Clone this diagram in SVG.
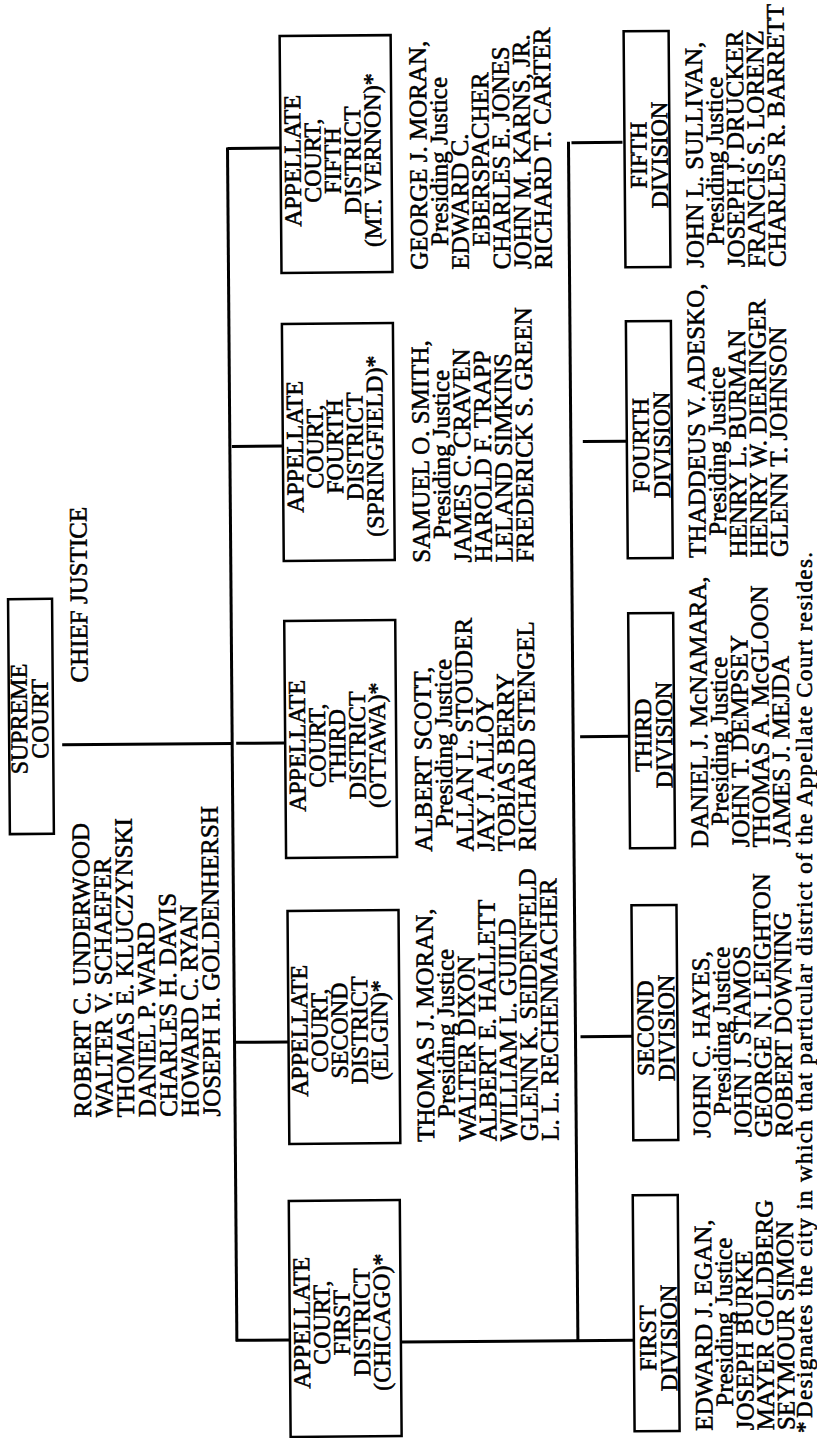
<svg xmlns="http://www.w3.org/2000/svg" width="817" height="1438" viewBox="0 0 817 1438">
<style>
.box{fill:none;stroke:#000;stroke-width:2.5}
.ln{stroke:#000;stroke-width:3;fill:none}
text{font-family:'Liberation Serif','Times New Roman',serif;font-size:25px;fill:#000;stroke:#000;stroke-width:0.55}
.bt{font-size:24px;text-anchor:middle}
.fn{font-size:23px}
</style>
<rect width="817" height="1438" fill="#fff"/>
<g transform="rotate(-0.45 408 719)">
<g id="connectors">
<line class="ln" x1="62" y1="742" x2="232" y2="742"/>
<line class="ln" x1="232" y1="146" x2="232" y2="1340"/>
<line class="ln" x1="232" y1="147" x2="285" y2="147"/>
<line class="ln" x1="234" y1="445" x2="285" y2="445"/>
<line class="ln" x1="236" y1="742" x2="285" y2="742"/>
<line class="ln" x1="232" y1="1041" x2="286" y2="1041"/>
<line class="ln" x1="231" y1="1339" x2="285" y2="1339"/>
<line class="ln" x1="573" y1="143" x2="573" y2="1343"/>
<line class="ln" x1="576" y1="144" x2="627" y2="144"/>
<line class="ln" x1="585" y1="443" x2="629" y2="443"/>
<line class="ln" x1="580" y1="738" x2="629" y2="738"/>
<line class="ln" x1="578" y1="1038" x2="630" y2="1038"/>
<line class="ln" x1="396" y1="1342" x2="629" y2="1342"/>
</g>

<g id="supreme-court">
<rect class="box" x="9" y="596" width="44" height="235"/>
<g transform="rotate(-90)">
<text class="bt" x="-716" y="27">SUPREME</text>
<text class="bt" x="-716" y="48">COURT</text>
</g>
</g>

<g id="supreme-justices" transform="rotate(-90)">
<text x="-680" y="88">CHIEF JUSTICE</text>
<text x="-1115" y="88">ROBERT C. UNDERWOOD</text>
<text x="-1115" y="109.5">WALTER V. SCHAEFER</text>
<text x="-1115" y="131">THOMAS E. KLUCZYNSKI</text>
<text x="-1115" y="152.5">DANIEL P. WARD</text>
<text x="-1115" y="174">CHARLES H. DAVIS</text>
<text x="-1115" y="195.5">HOWARD C. RYAN</text>
<text x="-1115" y="217">JOSEPH H. GOLDENHERSH</text>
</g>

<g id="district-5">
<rect class="box" x="285" y="35" width="111" height="237"/>
<g transform="rotate(-90)">
<text class="bt" x="-160" y="305">APPELLATE</text>
<text class="bt" x="-160" y="325">COURT,</text>
<text class="bt" x="-160" y="345">FIFTH</text>
<text class="bt" x="-160" y="365">DISTRICT</text>
<text class="bt" x="-160" y="385">(MT. VERNON)*</text>
</g>
</g>
<g id="district-4">
<rect class="box" x="285" y="323" width="111" height="237"/>
<g transform="rotate(-90)">
<text class="bt" x="-446" y="305">APPELLATE</text>
<text class="bt" x="-446" y="325">COURT,</text>
<text class="bt" x="-446" y="345">FOURTH</text>
<text class="bt" x="-446" y="365">DISTRICT</text>
<text class="bt" x="-446" y="385">(SPRINGFIELD)*</text>
</g>
</g>
<g id="district-3">
<rect class="box" x="285" y="620" width="111" height="237"/>
<g transform="rotate(-90)">
<text class="bt" x="-745" y="305">APPELLATE</text>
<text class="bt" x="-745" y="325">COURT,</text>
<text class="bt" x="-745" y="345">THIRD</text>
<text class="bt" x="-745" y="365">DISTRICT</text>
<text class="bt" x="-745" y="385">(OTTAWA)*</text>
</g>
</g>
<g id="district-2">
<rect class="box" x="286" y="910" width="111" height="233"/>
<g transform="rotate(-90)">
<text class="bt" x="-1030" y="305">APPELLATE</text>
<text class="bt" x="-1030" y="325">COURT,</text>
<text class="bt" x="-1030" y="345">SECOND</text>
<text class="bt" x="-1030" y="365">DISTRICT</text>
<text class="bt" x="-1030" y="385">(ELGIN)*</text>
</g>
</g>
<g id="district-1">
<rect class="box" x="285" y="1200" width="111" height="236"/>
<g transform="rotate(-90)">
<text class="bt" x="-1322" y="305">APPELLATE</text>
<text class="bt" x="-1322" y="325">COURT,</text>
<text class="bt" x="-1322" y="345">FIRST</text>
<text class="bt" x="-1322" y="365">DISTRICT</text>
<text class="bt" x="-1322" y="385">(CHICAGO)*</text>
</g>
</g>

<g id="district-5-justices" transform="rotate(-90)">
<text x="-270" y="431">GEORGE J. MORAN,</text>
<text x="-246" y="451.7">Presiding Justice</text>
<text x="-270" y="472.4">EDWARD C.</text>
<text x="-247" y="493.1">EBERSPACHER</text>
<text x="-270" y="513.8">CHARLES E. JONES</text>
<text x="-270" y="534.5">JOHN M. KARNS, JR.</text>
<text x="-270" y="555.2">RICHARD T. CARTER</text>
</g>
<g id="district-4-justices" transform="rotate(-90)">
<text x="-563" y="431">SAMUEL O. SMITH,</text>
<text x="-539" y="451.7">Presiding Justice</text>
<text x="-563" y="472.4">JAMES C. CRAVEN</text>
<text x="-563" y="493.1">HAROLD F. TRAPP</text>
<text x="-563" y="513.8">LELAND SIMKINS</text>
<text x="-563" y="534.5">FREDERICK S. GREEN</text>
</g>
<g id="district-3-justices" transform="rotate(-90)">
<text x="-852" y="431">ALBERT SCOTT,</text>
<text x="-828" y="451.7">Presiding Justice</text>
<text x="-852" y="472.4">ALLAN L. STOUDER</text>
<text x="-852" y="493.1">JAY J. ALLOY</text>
<text x="-852" y="513.8">TOBIAS BERRY</text>
<text x="-852" y="534.5">RICHARD STENGEL</text>
</g>
<g id="district-2-justices" transform="rotate(-90)">
<text x="-1142" y="431">THOMAS J. MORAN,</text>
<text x="-1118" y="451.7">Presiding Justice</text>
<text x="-1142" y="472.4">WALTER DIXON</text>
<text x="-1142" y="493.1">ALBERT E. HALLETT</text>
<text x="-1142" y="513.8">WILLIAM L. GUILD</text>
<text x="-1142" y="534.5">GLENN K. SEIDENFELD</text>
<text x="-1142" y="555.2">L. L. RECHENMACHER</text>
</g>

<g id="division-5">
<rect class="box" x="629" y="33" width="45" height="236"/>
<g transform="rotate(-90)">
<text class="bt" x="-157" y="651">FIFTH</text>
<text class="bt" x="-157" y="672">DIVISION</text>
</g>
</g>
<g id="division-4">
<rect class="box" x="629" y="323" width="45" height="237"/>
<g transform="rotate(-90)">
<text class="bt" x="-447" y="651">FOURTH</text>
<text class="bt" x="-447" y="672">DIVISION</text>
</g>
</g>
<g id="division-3">
<rect class="box" x="629" y="615" width="45" height="235"/>
<g transform="rotate(-90)">
<text class="bt" x="-737" y="651">THIRD</text>
<text class="bt" x="-737" y="672">DIVISION</text>
</g>
</g>
<g id="division-2">
<rect class="box" x="630" y="907" width="45" height="235"/>
<g transform="rotate(-90)">
<text class="bt" x="-1030" y="651">SECOND</text>
<text class="bt" x="-1030" y="672">DIVISION</text>
</g>
</g>
<g id="division-1">
<rect class="box" x="629" y="1197" width="45" height="236"/>
<g transform="rotate(-90)">
<text class="bt" x="-1340" y="651">FIRST</text>
<text class="bt" x="-1340" y="672">DIVISION</text>
</g>
</g>

<g id="division-5-justices" transform="rotate(-90)">
<text x="-270" y="707">JOHN L. SULLIVAN,</text>
<text x="-248" y="727.5">Presiding Justice</text>
<text x="-270" y="748">JOSEPH J. DRUCKER</text>
<text x="-270" y="768.5">FRANCIS S. LORENZ</text>
<text x="-270" y="789">CHARLES R. BARRETT</text>
</g>
<g id="division-4-justices" transform="rotate(-90)">
<text x="-560" y="707">THADDEUS V. ADESKO,</text>
<text x="-538" y="727.5">Presiding Justice</text>
<text x="-560" y="748">HENRY L. BURMAN</text>
<text x="-560" y="768.5">HENRY W. DIERINGER</text>
<text x="-560" y="789">GLENN T. JOHNSON</text>
</g>
<g id="division-3-justices" transform="rotate(-90)">
<text x="-850" y="707">DANIEL J. McNAMARA,</text>
<text x="-828" y="727.5">Presiding Justice</text>
<text x="-850" y="748">JOHN T. DEMPSEY</text>
<text x="-850" y="768.5">THOMAS A. McGLOON</text>
<text x="-850" y="789">JAMES J. MEJDA</text>
</g>
<g id="division-2-justices" transform="rotate(-90)">
<text x="-1140" y="707">JOHN C. HAYES,</text>
<text x="-1118" y="727.5">Presiding Justice</text>
<text x="-1140" y="748">JOHN J. STAMOS</text>
<text x="-1140" y="768.5">GEORGE N. LEIGHTON</text>
<text x="-1140" y="789">ROBERT DOWNING</text>
</g>
<g id="division-1-justices" transform="rotate(-90)">
<text x="-1433" y="707">EDWARD J. EGAN,</text>
<text x="-1409" y="727.5">Presiding Justice</text>
<text x="-1433" y="748">JOSEPH BURKE</text>
<text x="-1433" y="768.5">MAYER GOLDBERG</text>
<text x="-1433" y="789">SEYMOUR SIMON</text>
</g>
</g>

<g id="footnote" transform="rotate(-90)">
<text class="fn" x="-1433" y="812">*</text>
<text class="fn" x="-1418" y="812" textLength="866" lengthAdjust="spacing">Designates the city in which that particular district of the Appellate Court resides.</text>
</g>
</svg>
